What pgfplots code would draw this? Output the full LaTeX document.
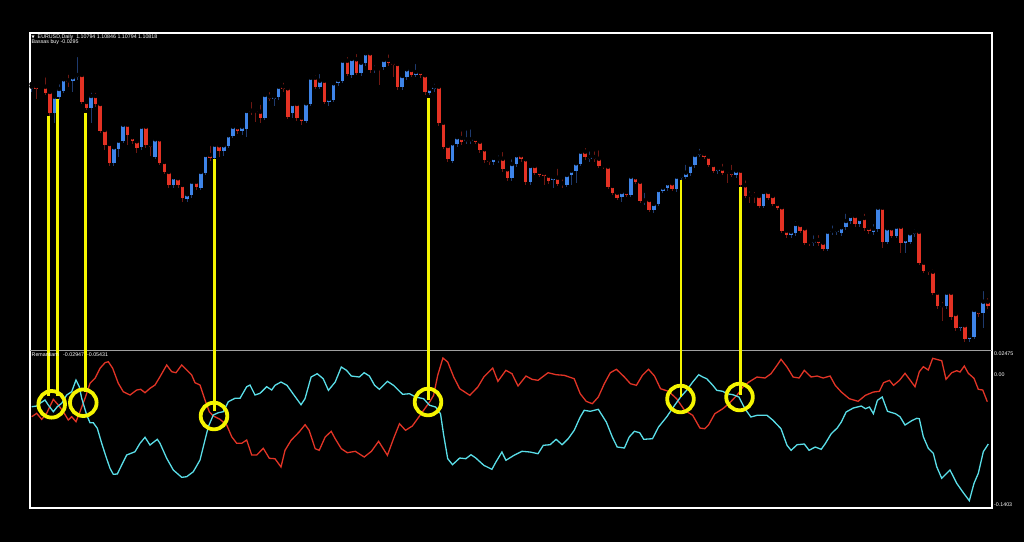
\documentclass[border=0pt]{standalone}
\usepackage{pgfplots}
\pgfplotsset{compat=1.18}
\usepackage{pgfplotstable}
\usepackage{fontspec}
\setmainfont{Liberation Sans}
\newfontfamily\dv{DejaVu Sans}
\definecolor{cblue}{RGB}{62,132,232}
\definecolor{cred}{RGB}{228,50,36}
\definecolor{bwick}{RGB}{30,58,110}
\definecolor{rwick}{RGB}{110,24,18}
\definecolor{lcyan}{RGB}{90,222,232}
\definecolor{lred}{RGB}{226,52,38}
\definecolor{yel}{RGB}{245,245,0}

\pgfplotstableread{
k t b h l
0 86.7 89.3 84 92
5 96.7 113.3 94 122.7
6 89 97.3 82.3 100
7 79.3 90.7 75.3 93
9 77.3 80.7 75.3 92
10 75 77.3 55 80
13 96 108.3 90.7 123.3
18 147.3 163.3 145 166
19 140.7 148.7 138 156.7
20 124.7 140.7 122 143
24 126.7 147.3 124 150
27 139.3 156.7 137 159
31 177.3 185.3 175 188
34 194.3 199 192 202
35 181.7 195 178 198
37 172 187.7 169 190
38 155 172.7 152 175
40 144.7 158.3 141 161
42 145.3 151 143 156
43 135.3 145.7 133 148
44 126.7 135.7 124 138
46 126.7 131 124 135
47 111 129.3 108 137.3
51 95 117.7 92 120
53 96.7 98.7 94 106
54 86.7 97.3 84.3 100
57 104 112.7 101 118
60 103.3 120.7 101 123
61 77.7 104 75 106
63 80.7 86.7 72 89
65 99 102.3 96 106
66 83.3 100 81 102
67 80 83.3 77 86
68 60.7 80.7 58 83
70 59 75 56 78
72 62.7 73.3 60 76
73 53.3 63.3 49.3 66
75 68.3 70 63.3 73.3
77 60 67.3 57 70
81 76 87.3 73 90
82 69.3 77.3 66 80
84 72 74.7 62 77
87 88.7 92.7 86 95
88 86.7 89.3 81.7 92
92 143.3 160.7 141 163
93 137.3 144 134.7 147
95 139.3 141.3 128.3 144
96 139.3 141 127.3 144
101 158 162 155 165
102 158.5 160 153.3 163
105 164 178.3 157.3 181
106 155.3 164 153 167
109 166 182.3 163 185
114 177.3 180 175 188.3
117 175 184.7 172 187
118 170.7 175 168 185
119 163.3 170.7 161 183.3
120 151.7 164 149.3 166
122 157 159 149.3 162
129 192 197.3 189.3 201.7
131 176.7 194.7 174 197
134 200.5 201.8 190.7 205
136 204 210 202 213
137 190 204 187 206
138 187.7 190.7 184 193
139 183.3 188 181 191
141 176.7 189.3 174 192
142 176 178 172 181
143 172.7 176.7 162.7 179
144 164.7 173.3 162 176
145 155 165.3 152 168
146 152.7 155 146.7 157
150 168.7 171.3 166 174
154 170.7 175.3 167.3 178
160 192 206 190 208
166 231.7 235.3 229 238
167 224 233.3 219.3 236
171 241 243 233.3 246
174 231.7 249 229 251
175 230.7 232.3 223.3 235
176 230 232 226 235
177 227.3 233.3 223.3 236
178 221 227.3 211.7 230
179 216 221 211.7 224
181 219 224 216 227
184 228.7 232 222 235
185 207.7 229.3 205 232
187 228.3 241.7 226 244
189 226.7 236 224 238
191 239.3 242.7 236 253.3
192 233.3 241.7 231 244
193 231.7 234 227.3 237
200 292.7 306 290 309
203 325.3 328.3 322 331
205 336 339 333 342
206 310 336.7 307 339
208 301.7 313.3 289 328
}\bluec

\pgfplotstableread{
k t b h l
1 86.3 89 83 99
3 86.7 92.7 75.3 95
4 92 113.3 90 116
8 80.3 81.5 72.7 86.7
11 75 101.7 71.3 104
12 102 108.3 100 110
14 96 104 90.7 107
15 104 131 102 133
16 130 145 128 150
17 144 163.3 142 166
21 124.7 135.3 122 145
22 137.3 141.3 135 144
23 141.3 148 139 152.7
25 126.7 145 124 148
26 144.7 147.3 141.7 156
28 139.3 162.7 137 165
29 162 172 160 174
30 172 185.3 170 188
32 178.3 185.3 176 188
33 185 198.3 183 201.7
36 181.7 186.7 179 190
39 155 158.3 144 161
41 145.3 151 143 157.3
45 127.3 131 123 134
48 110.7 112.2 100 115
49 110.7 112.2 108.3 121.7
50 111.7 117.7 102.7 122.7
52 96.7 98.7 90 101
55 86.7 89 80.7 92
56 88.3 116.7 86 119
58 104 118.3 102 121
59 117.7 120.7 115 125
62 77.7 86.7 73 89
64 80.7 102.3 78 104
69 60.7 74 55 76
71 59.3 72.7 52 75
74 53.3 70 51 73
76 68.3 70 65 85
78 60 63.3 52.3 66
79 63 65 60 76.7
80 64 87.3 62 90
83 70 74.7 67 77
85 72 75.3 69.3 78
86 75.3 92 73 95
89 86.7 123.3 84 126
90 122.7 146.7 120 149
91 146 159.3 144 162
94 138 142 129.3 145
97 139 141.7 136 144
98 141.7 150 139 153
99 149.3 160 147 163
100 160 162 158 165.3
103 158.7 169.3 150 172
104 169.3 178.3 167 181
107 155.3 159.3 153 162
108 159.3 182.3 157 185
110 166 172.7 162 175
111 172 174.7 169 177
112 173.3 175.7 170 185
113 175.7 181.3 173 184
115 177.7 183.7 166.7 186
116 183.3 184.8 177.3 188.3
121 151.7 157.3 146 160
123 157 159 149.3 162
124 158.7 166 148.3 168
125 165.3 167 163 169
126 166.7 186.7 164 189
127 186 192.7 184 195
128 192.7 198 190 200
130 192 194.7 189 197
132 177.3 182 175 184
133 181.7 200.7 179 203
135 200 210 198 212
140 183.3 188.7 181 191
147 154 156.7 152 159
148 156.7 165 154 167
149 165 171 163 173
151 168.7 172.7 161.7 175
152 171.7 173.3 170 183.3
153 172.3 174.7 162.7 177
155 170.7 185.3 168 188
156 185.3 196 178.3 198
157 194.7 196 189.3 202.7
158 195.3 196.8 190 203
159 196 206 194 208
161 192 198 190 200
162 196 204 194 206
163 204 208 202 210
164 207.3 230.7 205 233
165 230.7 235.3 228 238
168 225 230.7 223 233
169 228.3 242.7 226 245
170 241.7 243.3 239 246
172 240 243.3 233 246
173 242.7 249 240 251
180 216 224 213 227
182 218 228.3 211.7 231
183 228 231.3 226 234
186 207.7 242.3 205 248.3
188 228.3 236 226 238
190 226.7 242.7 224 253.3
194 231.7 262.7 229 265
195 262.7 270.7 260 273
196 270 272.3 267 275
197 271.7 292.7 267.3 295
198 292.7 306 290 309
199 305.3 306.8 300 320.7
201 292.7 316.7 290 320
202 314 328.3 311 331
204 325.3 339 322 342
207 311.3 314 308 317
209 301.7 306 296 309
}\redc

\begin{document}
\begin{tikzpicture}
\fill[black] (0,0) rectangle (1024pt,542pt);
\begin{axis}[
  at={(0,0)}, anchor=south west,
  scale only axis, width=1024pt, height=542pt,
  xmin=0, xmax=1024, ymin=0, ymax=542, y dir=reverse,
  hide axis, clip=false,
]
% wicks
\addplot[only marks, mark=none, forget plot, error bars/.cd, y dir=plus, y explicit, error mark=none,
  error bar style={draw=bwick, solid, line width=1pt}]
  table[x expr=31.6+4.575*\thisrow{k}, y=h, y error plus expr=\thisrow{l}-\thisrow{h}] {\bluec};
\addplot[only marks, mark=none, forget plot, error bars/.cd, y dir=plus, y explicit, error mark=none,
  error bar style={draw=rwick, solid, line width=1pt}]
  table[x expr=31.6+4.575*\thisrow{k}, y=h, y error plus expr=\thisrow{l}-\thisrow{h}] {\redc};
% bodies
\addplot[only marks, mark=none, forget plot, error bars/.cd, y dir=plus, y explicit, error mark=none,
  error bar style={draw=cblue, solid, line width=3.5pt, line cap=butt}]
  table[x expr=31.6+4.575*\thisrow{k}, y=t, y error plus expr={max(\thisrow{b}-\thisrow{t},1.5)}] {\bluec};
\addplot[only marks, mark=none, forget plot, error bars/.cd, y dir=plus, y explicit, error mark=none,
  error bar style={draw=cred, solid, line width=3.5pt, line cap=butt}]
  table[x expr=31.6+4.575*\thisrow{k}, y=t, y error plus expr={max(\thisrow{b}-\thisrow{t},1.5)}] {\redc};

% frame
\draw[white, line width=2pt] (axis cs:30,33) rectangle (axis cs:992,508);
\draw[gray!75, line width=0.8pt] (axis cs:30,350) -- (axis cs:992,350);

% indicator lines
\addplot[lred, line width=1.3pt] coordinates {
(31.7,416.7) (36.7,413.3) (41.7,419.3) (46.7,413.3) (53.3,399.3) (58.3,405) (63.3,411.7) (68.3,420) (71.7,416.7) (76,421.7) (80,411.7) (85,398.3) (90,383.3) (95,378.3) (100,368.3) (105,362.7) (108.3,361.7) (112.7,368.3) (118.3,383.3) (123.3,391.7) (130,395) (136.7,390) (140.7,389.3) (145,392.7) (150,388.3) (155,385) (160,376.7) (166.7,365) (171.7,371.7) (176,372.7) (181.7,365) (186.7,370) (191.7,375) (195,382.7) (200,385) (205,400) (209.3,411.7) (213.3,416) (220,419.3) (226.7,425) (231.7,436.7) (236.7,443.3) (241.7,443.3) (246.7,440) (251.7,455) (256.7,455) (263.3,448.3) (269.3,458.3)
(275,458.7) (281,467) (285,450.3) (291.1,440.3) (299.1,432) (305.1,424.7) (309.1,430.3) (315.2,448.7) (319.2,450.3) (325.2,437) (331.2,431.3) (335.2,438.7) (341.3,448.7) (347.3,452.7) (355.3,451.3) (364.2,457) (371.4,451.3) (378.6,441.3) (387.4,455.3) (393.5,438.7) (399.5,423.7) (405.5,430.3) (412.3,426) (417.6,418.7) (423.6,410.3) (429.6,402) (433.6,395.3) (437.7,375.3) (442.9,358) (447.7,362) (453.7,377) (459.7,388.7) (469.8,395.3) (477.8,387) (483.8,377) (492.7,368) (497.9,381.3) (505.9,370.3) (512,373.7) (518,386) (526,376) (532,379.3) (538,380.3) (548.1,372.7) (556.1,374.7) (564.2,375.3) (574.2,378.7) (580.2,393.7) (586.2,401.3) (592.3,403.7) (598.3,397) (604.3,383.7) (610.3,372.7) (616.4,369.3) (624.4,377) (630.4,383.7) (636.4,385.3) (642.4,375.3) (648.5,369.3) (654.5,376) (660.5,388.7) (668.6,391.3) (676.6,398.7) (684.6,410.3) (692.7,415.3) (699.9,428) (704.7,428.7) (708.7,424.7) (714.8,413.7) (722.8,408.7) (728.8,403.7) (736.9,395.3) (742.9,387) (748.9,382) (757,377) (765,378) (771,373.7) (777,365.3) (781,359.3) (787,367) (793.1,377) (799.1,378) (804.3,370.3) (811.1,377) (817.2,376) (823.2,378) (830.1,376) (835.2,385.3) (841.3,392) (849.3,398.7) (858.1,401.3) (865.4,395.3) (873.4,392) (879.4,391.3) (883.5,382.7) (889.5,380.3) (893.5,385.3) (899.5,380.3)
(905,373.3) (915,386.7) (919.3,371.7) (923.3,366.7) (928.3,370) (932.7,358.3) (941.7,360.7) (946,379.3) (951.7,372.7) (956.7,370.7) (960,372) (964.3,366) (968.3,373.3) (974,378.3) (978.3,389.3) (982.7,390) (987.3,401.7)
};
\addplot[lcyan, line width=1.3pt] coordinates {
(31.7,406.7) (36.7,406) (40,403.3) (45,400) (48.3,405) (53.3,411.7) (57.3,406.7) (61.7,403.3) (66.7,395) (71.7,391.7) (76,380) (79.3,386.7) (81.7,398.3) (86.7,415) (90,422.7) (93.3,422.7) (97.3,428.3) (101.7,443.3) (106,456.7) (110,468.3) (113.3,474.3) (117.3,474) (121.7,465) (126.7,455) (135,451.7) (140,443.3) (145,437.3) (150,445) (157.3,439.3) (160,443.3) (166.7,458.3) (173.3,470) (181.7,477.3) (186.7,476.7) (193.3,471.7) (200,460) (205,440) (208.3,426.7) (213.3,415) (218.3,412.7) (223.3,411.7) (228.3,401.7) (235,398.3) (240,398.3) (246.7,386.7) (250,385) (255,395) (260,393.3) (266.7,386.7) (271.7,390)
(275,385.3) (281,382) (287,385.3) (293,393.7) (301,404.7) (305,398.7) (311.1,377) (317.2,373.7) (323.2,378.7) (328.4,390.3) (335.2,382) (341.3,367) (346.5,370.3) (351.3,376) (359.3,377) (364.2,372.7) (369.4,376) (374.6,385.3) (379.4,389.3) (387.4,381.3) (393.5,385.3) (397.5,389.3) (402.7,394.3) (409.5,393.7) (415.6,397) (423.6,398.7) (429.6,405.3) (435.6,407) (440.5,413.7) (443.7,435.3) (447.7,458.7) (452.5,464.7) (459.7,458) (465.8,458.7) (471,454.7) (475.8,458) (483.8,465.3) (491.9,469.3) (495.9,462) (501.9,452) (505.9,460.3) (514,455.3) (522,451.3) (530,452) (538,453.7) (543.3,445.3) (550.1,444.7) (556.1,439.3) (562.1,444.7) (568.2,438.7) (574.2,430.3) (580.2,417) (584.2,410.3) (590.3,411.3) (598.3,409.3) (606.3,422) (612.3,437) (617.2,447) (624.4,448) (629.2,437) (634.4,431.3) (639.7,432.7) (643.7,439.3) (652.5,438.7) (658.5,427) (666.6,417) (674.6,405.3) (680.6,397) (686.6,390.3) (692.7,382) (698.7,374.7) (702.7,377) (706.7,378.7) (712.8,385.3) (716.8,390.3) (722.8,391.3) (726.9,393.7) (732.9,394.7) (738.9,397) (744.9,408.7) (750.9,417) (757,415.3) (767,415.3) (773,420.3) (781,428.7) (787,445.3) (791.1,450.3) (797.1,444.7) (804.3,444) (809.1,450.3) (815.2,447) (821.2,449.3) (825.2,443.7) (831.2,433.7) (837.2,428) (841.3,422) (846.1,412) (853.3,408) (861.3,406) (865.4,408.7) (869.4,407) (873.4,413.7) (877.4,400.3) (882.2,397) (887.5,411.3) (895.5,413.7) (900,416.7)
(905,425) (911.7,420.7) (916.7,418.3) (919.3,418.7) (923.3,436.7) (928.3,448.3) (933.3,453.3) (936.7,466.7) (941.7,478.3) (950,470) (956.7,483.3) (963.3,492.7) (969.3,500.7) (974,483.3) (978.3,473.3) (983.3,451.7) (988.3,444)
};

% yellow markers
\addplot[yel, line width=2.6pt, line cap=butt, unbounded coords=jump] coordinates {
(48.7,116) (48.7,396) (nan,nan)
(57.3,99.3) (57.3,396) (nan,nan)
(85.3,112.7) (85.3,392) (nan,nan)
(214.3,159) (214.3,411) (nan,nan)
(428.7,98) (428.7,400) (nan,nan)
(681,180) (681,397) (nan,nan)
(740.7,187.3) (740.7,395)
};
\addplot[only marks, mark=o, mark size=13.3pt, mark options={draw=yel, line width=3.8pt}] coordinates {
(51.7,404.3) (83.3,402.7) (214,416) (428,402) (680.5,399) (739.5,397)
};

% texts
\node[anchor=west, font=\fontsize{5.3}{6}\selectfont, text=white, inner sep=0pt] at (axis cs:31.5,37.5) {{\dv\fontsize{4}{5}\selectfont ▼}\ \ EURUSD,Daily\ \ 1.10794 1.10846 1.10794 1.10818};
\node[anchor=west, font=\fontsize{5.3}{6}\selectfont, text=white, inner sep=0pt] at (axis cs:31.5,42.5) {Bassas buy -0.0295};
\node[anchor=west, font=\fontsize{5.3}{6}\selectfont, text=white, inner sep=0pt] at (axis cs:31.5,355) {Remantiam\ \ \ -0.02947\ \ -0.05431};
\node[anchor=west, font=\fontsize{5.3}{6}\selectfont, text=white, inner sep=0pt] at (axis cs:994,354) {0.02475};
\node[anchor=west, font=\fontsize{5.3}{6}\selectfont, text=white, inner sep=0pt] at (axis cs:994,374.5) {0.00};
\node[anchor=west, font=\fontsize{5.3}{6}\selectfont, text=white, inner sep=0pt] at (axis cs:994,505) {-0.1403};
\end{axis}
\end{tikzpicture}
\end{document}
